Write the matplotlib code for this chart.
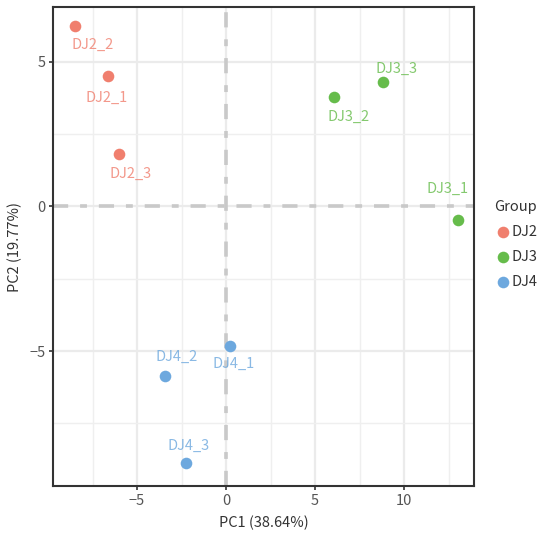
import matplotlib
matplotlib.use("Agg")
from matplotlib import pyplot as plt
from matplotlib.ticker import MultipleLocator

plt.rcParams['font.family'] = ['Noto Sans CJK SC', 'DejaVu Sans']

# PCA scores
samples = ["DJ2_1", "DJ2_2", "DJ2_3", "DJ3_1", "DJ3_2", "DJ3_3", "DJ4_1", "DJ4_2", "DJ4_3"]
groups = ["DJ2", "DJ2", "DJ2", "DJ3", "DJ3", "DJ3", "DJ4", "DJ4", "DJ4"]
pc1 = [-6.63, -8.48, -6.01, 13.03, 6.07, 8.82, 0.22, -3.43, -2.25]
pc2 = [4.53, 6.23, 1.83, -0.48, 3.77, 4.29, -4.81, -5.88, -8.86]
group_names = ["DJ2", "DJ3", "DJ4"]
group_colors = {"DJ2": "#F07F6E", "DJ3": "#66BC4B", "DJ4": "#6DA8DE"}
# repelled label offsets in pixels (right, down)
label_off = [(-1, 22), (18, 18), (12, 20), (-10, -31), (14, 19),
             (13, -14), (4, 18), (12, -20), (3, -17)]

fig = plt.figure(figsize=(5.41, 5.37), dpi=100)
ax = fig.add_axes([53/541, 1 - 486/537, (474-53)/541, (486-7)/537])

ax.set_xlim(-9.72, 13.93)
ax.set_ylim(-9.67, 6.9)
ax.xaxis.set_major_locator(MultipleLocator(5))
ax.yaxis.set_major_locator(MultipleLocator(5))
ax.xaxis.set_minor_locator(MultipleLocator(2.5))
ax.yaxis.set_minor_locator(MultipleLocator(2.5))
ax.grid(which='major', color='#EBEBEB', lw=1.6, zorder=0)
ax.grid(which='minor', color='#EFEFEF', lw=1.0, zorder=0)
ax.set_axisbelow(True)

dash = (4.2, 3.3, 1.9, 3.3)
ax.axhline(0, color='#C9C9C9', lw=2.6, dashes=dash, zorder=1)
ax.axvline(0, color='#C9C9C9', lw=2.6, dashes=dash, zorder=1)

for g in group_names:
    idx = [i for i, gg in enumerate(groups) if gg == g]
    ax.scatter([pc1[i] for i in idx], [pc2[i] for i in idx], s=70,
               color=group_colors[g], label=g, zorder=3, linewidths=0)

for i, s in enumerate(samples):
    dx, dy = label_off[i]
    ax.annotate(s, (pc1[i], pc2[i]), xytext=(dx * 0.72, -dy * 0.72),
                textcoords='offset points', color=group_colors[groups[i]], alpha=0.8,
                fontsize=10.5, ha='center', va='center', zorder=4)

for sp in ax.spines.values():
    sp.set_color('#333333')
    sp.set_linewidth(1.5)
ax.tick_params(which='major', length=3, width=1.2, color='#333333', labelsize=10.5,
               labelcolor='#555555', pad=2.5)
ax.tick_params(which='minor', length=0)

ax.set_xlabel("PC1 (38.64%)", fontsize=10.5, color='#333333', labelpad=6)
ax.set_ylabel("PC2 (19.77%)", fontsize=10.5, color='#333333', labelpad=5)

leg = ax.legend(title="Group", loc='upper left', bbox_to_anchor=(494/541, 1 - 200/537),
                bbox_transform=fig.transFigure, frameon=False, fontsize=10.5,
                title_fontsize=10.5, handletextpad=0.0, borderaxespad=0,
                labelspacing=0.75, handlelength=1.2, borderpad=0)
leg._legend_box.align = "left"
for t in leg.get_texts():
    t.set_color('#333333')
leg.get_title().set_color('#333333')

fig.savefig("out.png", dpi=100)
